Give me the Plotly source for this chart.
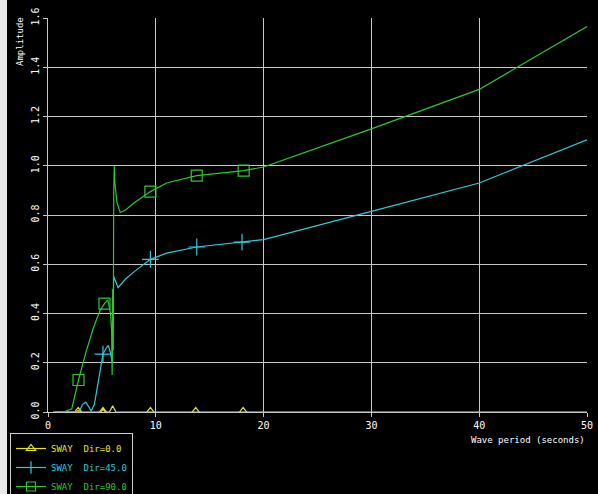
import plotly.graph_objects as go

# ---- data ----
x_dir90 = [1.1, 1.6, 2.2, 2.83, 3.5, 4.2, 4.8, 5.24, 5.55, 5.8, 5.9, 5.95, 6.0, 6.05, 6.1, 6.15, 6.2, 6.4, 6.7, 7.2, 8.0, 9.5, 11.0, 13.8, 16.0, 18.15, 20.0, 30.0, 40.0, 50.0]
y_dir90 = [0.0, 0.003, 0.012, 0.13, 0.24, 0.34, 0.41, 0.44, 0.455, 0.40, 0.33, 0.15, 0.5, 0.25, 0.9, 1.0, 0.93, 0.85, 0.81, 0.82, 0.85, 0.895, 0.93, 0.96, 0.97, 0.98, 0.995, 1.15, 1.31, 1.565]

x_dir45 = [0.5, 2.9, 3.2, 3.5, 3.8, 4.0, 4.3, 4.6, 4.9, 5.1, 5.4, 5.6, 5.8, 5.95, 6.1, 6.2, 6.5, 7.2, 8.0, 9.5, 11.0, 13.8, 16.0, 18.0, 20.0, 30.0, 40.0, 50.0]
y_dir45 = [0.0, 0.002, 0.03, 0.04, 0.02, 0.003, 0.03, 0.11, 0.19, 0.235, 0.26, 0.27, 0.24, 0.2, 0.55, 0.54, 0.505, 0.54, 0.57, 0.62, 0.645, 0.67, 0.68, 0.69, 0.70, 0.815, 0.93, 1.105]

x_dir0 = [0.5, 2.6, 2.8, 3.0, 4.9, 5.1, 5.3, 5.7, 6.0, 6.3, 7.0, 20.0, 50.0]
y_dir0 = [0.0, 0.0, 0.006, 0.0, 0.0, 0.012, 0.0, 0.0, 0.025, 0.0, 0.0, 0.0, 0.0]

mark_x90 = [2.83, 5.24, 9.5, 13.8, 18.15]
mark_y90 = [0.13, 0.44, 0.895, 0.96, 0.98]
mark_x45 = [5.1, 9.5, 13.8, 18.0]
mark_y45 = [0.235, 0.62, 0.67, 0.69]
mark_x0 = [2.8, 5.1, 9.5, 13.7, 18.1]
mark_y0 = [0.0, 0.0, 0.0, 0.0, 0.0]

x_ticks = [0, 10, 20, 30, 40, 50]
y_ticks = [0.0, 0.2, 0.4, 0.6, 0.8, 1.0, 1.2, 1.4, 1.6]
y_tick_labels = ["0.0", "0.2", "0.4", "0.6", "0.8", "1.0", "1.2", "1.4", "1.6"]

names = ["SWAY\u00a0\u00a0Dir=0.0", "SWAY\u00a0\u00a0Dir=45.0", "SWAY\u00a0\u00a0Dir=90.0"]
colors = ["#e6e62a", "#33c8d8", "#2fc82f"]
symbols = ["triangle-up-open", "cross-thin", "square-open"]
sizes = [9, 12, 11]
legend_sizes = [8, 9, 9]

FONT = "DejaVu Sans Mono"

fig = go.Figure()
series = [(x_dir0, y_dir0, mark_x0, mark_y0), (x_dir45, y_dir45, mark_x45, mark_y45), (x_dir90, y_dir90, mark_x90, mark_y90)]
for i, (xs, ys, mx, my) in enumerate(series):
    fig.add_trace(go.Scatter(x=xs, y=ys, mode="lines", line=dict(color=colors[i], width=1.2),
                             showlegend=False, hoverinfo="skip"))
    fig.add_trace(go.Scatter(x=mx, y=my, mode="markers", showlegend=False,
                             marker=dict(symbol=symbols[i], size=sizes[i], color=colors[i],
                                         line=dict(color=colors[i], width=1.2))))
for i in range(3):
    fig.add_trace(go.Scatter(x=[None], y=[None], mode="lines+markers",
                             name="<span style='color:%s'>%s</span>" % (colors[i], names[i]),
                             line=dict(color=colors[i], width=1.2),
                             marker=dict(symbol=symbols[i], size=legend_sizes[i], color=colors[i],
                                         line=dict(color=colors[i], width=1.2))))

W, H = 598, 494
ml, mr, mt, mb = 48, 11, 18, 82
pw, ph = W - ml - mr, H - mt - mb

fig.update_layout(
    width=W, height=H,
    margin=dict(l=ml, r=mr, t=mt, b=mb, pad=0, autoexpand=False),
    paper_bgcolor="black", plot_bgcolor="black",
    font=dict(family=FONT, color="white", size=9),
    xaxis=dict(range=[0, 50], tickvals=x_ticks, ticktext=[str(v) for v in x_ticks],
               showgrid=True, gridcolor="#c8c8c8", gridwidth=1, zeroline=False,
               showline=True, linecolor="#c8c8c8", ticks="outside", ticklen=4, tickcolor="#c8c8c8",
               tickfont=dict(family=FONT, size=10, color="white")),
    yaxis=dict(range=[0, 1.6], tickvals=y_ticks, ticktext=y_tick_labels, tickangle=-90,
               showgrid=True, gridcolor="#c8c8c8", gridwidth=1, zeroline=False,
               showline=True, linecolor="#c8c8c8", ticks="outside", ticklen=4, tickcolor="#c8c8c8",
               tickfont=dict(family=FONT, size=10, color="white")),
    legend=dict(x=(10 - ml) / pw, y=(412 - 433) / ph,
                xanchor="left", yanchor="top", bgcolor="black", bordercolor="#d0d0d0", borderwidth=1,
                font=dict(family=FONT, size=9), itemwidth=30, tracegroupgap=0),
    showlegend=True,
)

fig.add_annotation(text="Wave period (seconds)", xref="paper", yref="paper", x=1.0, y=(412 - 440) / ph,
                   xanchor="right", yanchor="middle", showarrow=False,
                   font=dict(family=FONT, size=9, color="white"))
fig.add_annotation(text="Amplitude", xref="paper", yref="paper", x=(20 - ml) / pw, y=(412 - 41) / ph,
                   xanchor="center", yanchor="middle", textangle=-90, showarrow=False,
                   font=dict(family=FONT, size=9, color="white"))
fig.add_shape(type="rect", xref="paper", yref="paper", x0=-ml / pw, x1=(7 - ml) / pw,
              y0=-mb / ph, y1=1 + mt / ph, fillcolor="#e8e8e8", line=dict(width=0), layer="above")

fig.write_html("out.html", config={"displayModeBar": False},
               post_script="document.body.style.margin='0';document.body.style.background='black';")
